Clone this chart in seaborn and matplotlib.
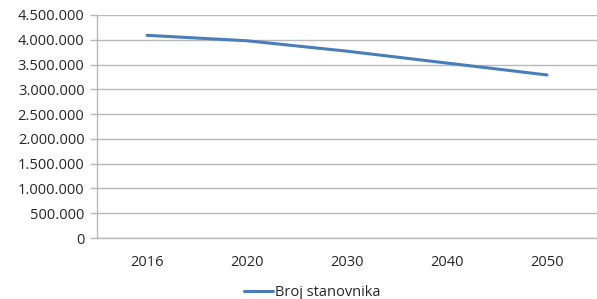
import pandas as pd
import matplotlib.pyplot as plt
import seaborn as sns
from matplotlib.ticker import FuncFormatter, FixedLocator

# data
years = ["2016", "2020", "2030", "2040", "2050"]
population = [4090000, 3980000, 3770000, 3530000, 3290000]
series_name = "Broj stanovnika"

df = pd.DataFrame({"godina": years, "stanovnici": population})

sns.set_style("white")
plt.rcParams["font.family"] = ["Open Sans", "DejaVu Sans"]

fig = plt.figure(figsize=(5.97, 2.99), dpi=100)
ax = fig.add_axes([97 / 597, 1 - 238 / 299, 1 - 97 / 597, (238 - 15) / 299])

sns.lineplot(data=df, x="godina", y="stanovnici", ax=ax, color="#4A7EBB",
             linewidth=2.2, label=series_name, sort=False)

ax.set_xlim(-0.5, len(years) - 0.5)
ax.set_ylim(0, 4500000)
ax.set_yticks(range(0, 4500001, 500000))
ax.yaxis.set_major_formatter(FuncFormatter(lambda v, p: f"{int(v):,}".replace(",", ".")))

ax.grid(axis="y", color="#B8B8B8", linewidth=1)
ax.set_axisbelow(True)
for side in ["top", "right"]:
    ax.spines[side].set_visible(False)
for side in ["left", "bottom"]:
    ax.spines[side].set_color("#B8B8B8")
    ax.spines[side].set_linewidth(1)

# tick marks between categories like Excel
ax.xaxis.set_minor_locator(FixedLocator([i - 0.5 for i in range(len(years) + 1)]))
ax.tick_params(axis="x", which="major", length=0, pad=12, labelsize=10.5, labelcolor="#262626")
ax.tick_params(axis="x", which="minor", length=5, color="#B8B8B8", width=1, direction="out")
ax.tick_params(axis="y", length=5, color="#B8B8B8", width=1, direction="out", labelsize=10.5,
               labelcolor="#262626", pad=4, left=True)
ax.set_xlabel("")
ax.set_ylabel("")

leg = ax.legend(loc="center", bbox_to_anchor=(0.43, -0.245), frameon=False, fontsize=10.5,
                handlelength=2.0, handletextpad=0.1)
for t in leg.get_texts():
    t.set_color("#262626")

fig.savefig("out.png", dpi=100)
